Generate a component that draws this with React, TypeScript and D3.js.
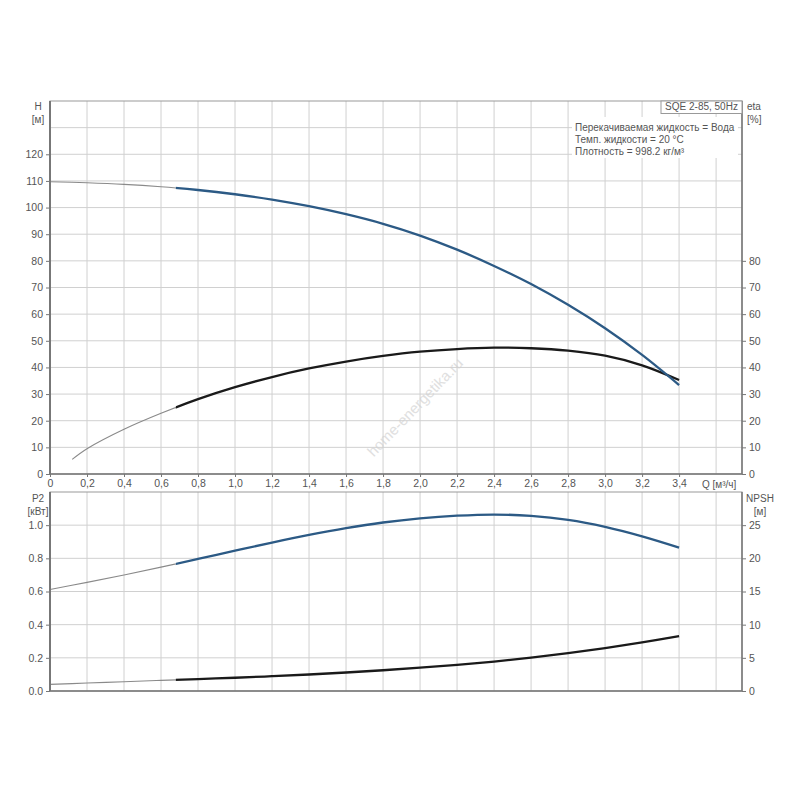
import * as d3 from "d3";
import { useEffect, useRef } from "react";

// Flow points (m³/h) shared by H, P2 and NPSH curves.
const flow = [0, 0.2, 0.4, 0.6, 0.8, 1.0, 1.2, 1.4, 1.6, 1.8, 2.0, 2.2, 2.4, 2.6, 2.8, 3.0, 3.2, 3.4];
const head = [109.7, 109.3, 108.7, 107.8, 106.6, 105.0, 103.0, 100.5, 97.5, 93.9, 89.5, 84.2, 78.1, 71.3, 63.5, 54.7, 44.7, 33.4];
const power = [0.612, 0.655, 0.7, 0.747, 0.796, 0.846, 0.895, 0.941, 0.982, 1.016, 1.041, 1.057, 1.064, 1.056, 1.032, 0.99, 0.933, 0.865];
const npsh = [1.0, 1.2, 1.4, 1.6, 1.8, 2.0, 2.23, 2.49, 2.79, 3.13, 3.51, 3.94, 4.44, 5.02, 5.7, 6.48, 7.34, 8.26];

// Efficiency starts a bit later.
const etaFlow = [0.12, 0.2, 0.4, 0.6, 0.8, 1.0, 1.2, 1.4, 1.6, 1.8, 2.0, 2.2, 2.4, 2.6, 2.8, 3.0, 3.2, 3.4];
const eta = [5.5, 9.5, 16.8, 22.8, 28.1, 32.6, 36.4, 39.6, 42.2, 44.3, 45.9, 46.9, 47.4, 47.2, 46.3, 44.4, 40.8, 35.3];

// Ticks and grid.
const flowTicks = [0, 0.2, 0.4, 0.6, 0.8, 1.0, 1.2, 1.4, 1.6, 1.8, 2.0, 2.2, 2.4, 2.6, 2.8, 3.0, 3.2, 3.4];
const flowGrid = [0.2, 0.4, 0.6, 0.8, 1.0, 1.2, 1.4, 1.6, 1.8, 2.0, 2.2, 2.4, 2.6, 2.8, 3.0, 3.2, 3.4, 3.6];
const headTicks = [0, 10, 20, 30, 40, 50, 60, 70, 80, 90, 100, 110, 120];
const headGrid = [10, 20, 30, 40, 50, 60, 70, 80, 90, 100, 110, 120, 130];
const etaTicks = [0, 10, 20, 30, 40, 50, 60, 70, 80];
const powerTicks = [0, 0.2, 0.4, 0.6, 0.8, 1.0];
const powerGrid = [0.2, 0.4, 0.6, 0.8, 1.0];
const npshTicks = [0, 5, 10, 15, 20, 25];

const pumpName = "SQE 2-85, 50Hz";
const infoLines = [
  "Перекачиваемая жидкость = Вода",
  "Темп. жидкости = 20 °C",
  "Плотность = 998.2 кг/м³",
];

const FONT = "'Liberation Sans', Arial, sans-serif";
const TEXT = "#555";
const BLUE = "#2c5a85";
const GRID = "#d0d0d0";
const AXIS = "#777";

export default function App() {
  const ref = useRef<SVGSVGElement>(null);

  useEffect(() => {
    const svg = d3.select(ref.current);
    svg.selectAll("*").remove();

    const left = 50;
    const right = 742;
    const top1 = 101;
    const bottom1 = 474;
    const top2 = 492;
    const bottom2 = 691;
    const thickFrom = 0.68;

    const x = d3.scaleLinear().domain([0, 3.74]).range([left, right]);
    const yH = d3.scaleLinear().domain([0, 140]).range([bottom1, top1]);
    const yP = d3.scaleLinear().domain([0, 1.2]).range([bottom2, top2]);
    const yN = d3.scaleLinear().domain([0, 30]).range([bottom2, top2]);

    // Clip paths for the thin (outside range) and thick parts of curves.
    const defs = svg.append("defs");
    defs
      .append("clipPath")
      .attr("id", "thin")
      .append("rect")
      .attr("x", 0)
      .attr("y", 0)
      .attr("width", x(thickFrom))
      .attr("height", 800);
    defs
      .append("clipPath")
      .attr("id", "thick")
      .append("rect")
      .attr("x", x(thickFrom))
      .attr("y", 0)
      .attr("width", 800)
      .attr("height", 800);

    // Watermark.
    svg
      .append("text")
      .attr("transform", "translate(416,408) rotate(-46)")
      .attr("text-anchor", "middle")
      .attr("dominant-baseline", "middle")
      .attr("font-family", FONT)
      .attr("font-size", 15)
      .attr("fill", "#e0e0e0")
      .text("home-energetika.ru");

    // Grids.
    const grid = (top: number, bottom: number, ys: number[], yScale: any) => {
      const g = svg.append("g").attr("stroke", GRID).attr("stroke-width", 1);
      g.selectAll("line.v")
        .data(flowGrid)
        .join("line")
        .attr("class", "v")
        .attr("x1", (d: number) => x(d))
        .attr("x2", (d: number) => x(d))
        .attr("y1", top)
        .attr("y2", bottom);
      g.selectAll("line.h")
        .data(ys)
        .join("line")
        .attr("class", "h")
        .attr("x1", left)
        .attr("x2", right)
        .attr("y1", (d: number) => yScale(d))
        .attr("y2", (d: number) => yScale(d));
    };
    grid(top1, bottom1, headGrid, yH);
    grid(top2, bottom2, powerGrid, yP);

    // Curves: thin grey before 0.68, thick after.
    const curve = (xs: number[], ys: number[], yScale: any, color: string) => {
      const line = d3
        .line()
        .x((_: number, i: number) => x(xs[i]))
        .y((d: number) => yScale(d))
        .curve(d3.curveCatmullRom.alpha(0.5));
      svg
        .append("path")
        .attr("d", line(ys))
        .attr("clip-path", "url(#thin)")
        .attr("fill", "none")
        .attr("stroke", "#8a8a8a")
        .attr("stroke-width", 1.1);
      svg
        .append("path")
        .attr("d", line(ys))
        .attr("clip-path", "url(#thick)")
        .attr("fill", "none")
        .attr("stroke", color)
        .attr("stroke-width", 2.3);
    };
    curve(etaFlow, eta, yH, "#1a1a1a");
    curve(flow, head, yH, BLUE);
    curve(flow, power, yP, BLUE);
    curve(flow, npsh, yN, "#1a1a1a");

    // Frames.
    [
      [top1, bottom1],
      [top2, bottom2],
    ].forEach(([t, b]) => {
      svg
        .append("rect")
        .attr("x", left)
        .attr("y", t)
        .attr("width", right - left)
        .attr("height", b - t)
        .attr("fill", "none")
        .attr("stroke", "#999")
        .attr("stroke-width", 1);
      svg
        .append("line")
        .attr("x1", left)
        .attr("x2", left)
        .attr("y1", t)
        .attr("y2", b)
        .attr("stroke", AXIS)
        .attr("stroke-width", 2);
      svg
        .append("line")
        .attr("x1", right)
        .attr("x2", right)
        .attr("y1", t)
        .attr("y2", b)
        .attr("stroke", AXIS)
        .attr("stroke-width", 1.5);
      svg
        .append("line")
        .attr("x1", left)
        .attr("x2", right)
        .attr("y1", b)
        .attr("y2", b)
        .attr("stroke", AXIS)
        .attr("stroke-width", 1.5);
    });

    // Axes.
    const styleAxis = (g: any) => {
      g.select(".domain").remove();
      g.selectAll(".tick line").attr("stroke", AXIS);
      g.selectAll(".tick text")
        .attr("fill", TEXT)
        .attr("font-family", FONT)
        .attr("font-size", 10.5);
    };

    svg
      .append("g")
      .attr("transform", `translate(${left},0)`)
      .call(d3.axisLeft(yH).tickValues(headTicks).tickSize(4).tickPadding(3))
      .call(styleAxis);
    svg
      .append("g")
      .attr("transform", `translate(${right},0)`)
      .call(d3.axisRight(yH).tickValues(etaTicks).tickSize(4).tickPadding(3))
      .call(styleAxis);
    svg
      .append("g")
      .attr("transform", `translate(0,${bottom1})`)
      .call(
        d3
          .axisBottom(x)
          .tickValues(flowTicks)
          .tickSize(3)
          .tickPadding(3)
          .tickFormat((d: number) => (d === 0 ? "0" : d3.format(".1f")(d).replace(".", ","))),
      )
      .call(styleAxis);
    svg
      .append("g")
      .attr("transform", `translate(${left},0)`)
      .call(
        d3
          .axisLeft(yP)
          .tickValues(powerTicks)
          .tickSize(4)
          .tickPadding(3)
          .tickFormat(d3.format(".1f")),
      )
      .call(styleAxis);
    svg
      .append("g")
      .attr("transform", `translate(${right},0)`)
      .call(d3.axisRight(yN).tickValues(npshTicks).tickSize(4).tickPadding(3))
      .call(styleAxis);

    // Axis titles.
    const label = (tx: number, ty: number, s: string, anchor = "middle") =>
      svg
        .append("text")
        .attr("x", tx)
        .attr("y", ty)
        .attr("text-anchor", anchor)
        .attr("dominant-baseline", "middle")
        .attr("font-family", FONT)
        .attr("font-size", 10)
        .attr("fill", TEXT)
        .text(s);

    label(38, 107, "H");
    label(38, 120, "[м]");
    label(747, 107, "eta", "start");
    label(747, 120, "[%]", "start");
    label(38, 499, "P2");
    label(38, 512, "[кВт]");
    label(760, 499, "NPSH");
    label(760, 512, "[м]");
    label(702, 485, "Q [м³/ч]", "start");

    // Pump name box.
    svg
      .append("rect")
      .attr("x", 661)
      .attr("y", top1)
      .attr("width", right - 661)
      .attr("height", 12.5)
      .attr("fill", "#fff")
      .attr("stroke", "#999");
    label(701.5, 107.5, pumpName);

    // Liquid info.
    svg
      .append("rect")
      .attr("x", 572)
      .attr("y", 117)
      .attr("width", 166)
      .attr("height", 41)
      .attr("fill", "#fff");
    infoLines.forEach((s, i) => label(575, 128.5 + i * 12, s, "start"));
  }, []);

  return (
    <svg
      ref={ref}
      width={800}
      height={800}
      style={{ position: "absolute", left: 0, top: 0, background: "#fff" }}
    />
  );
}
